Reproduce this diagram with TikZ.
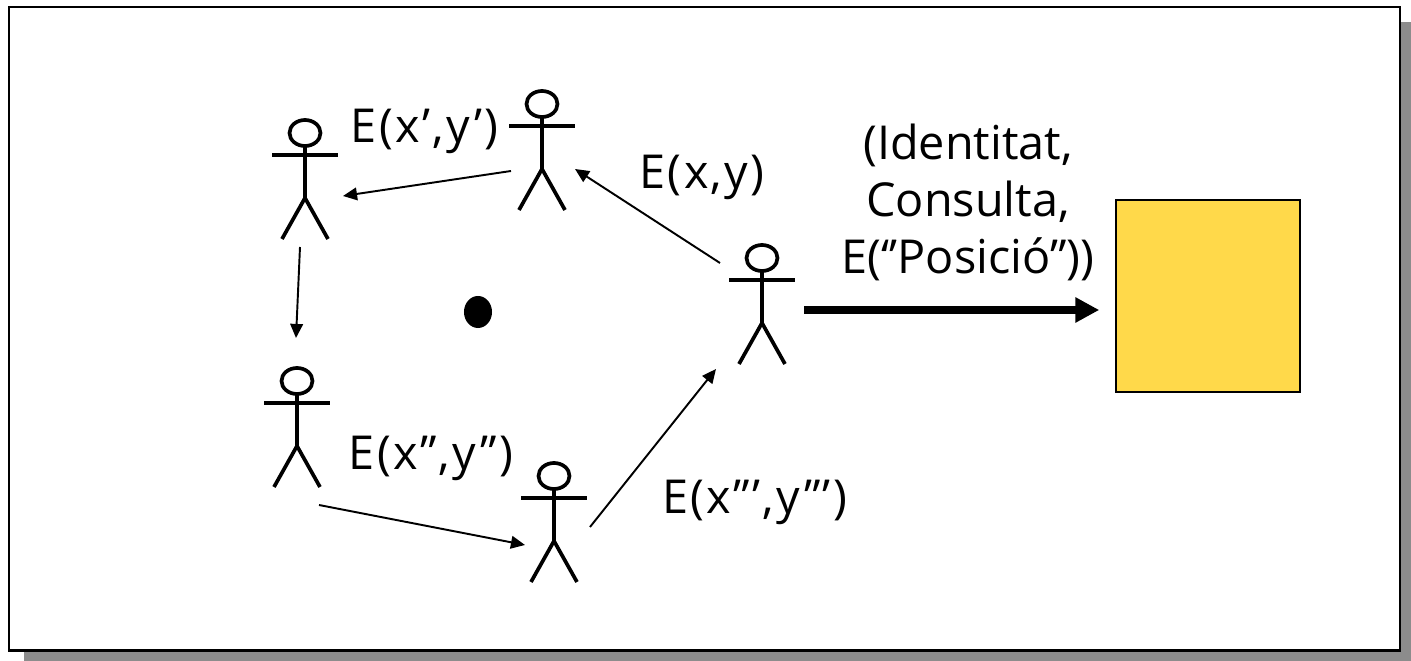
\documentclass[tikz,border=0pt]{standalone}
\usepackage{fontspec}
\usepackage{tikz}
\usetikzlibrary{arrows.meta, shapes.geometric}
\setmainfont{Open Sans}
\definecolor{framegray}{HTML}{8C8C8C}
\definecolor{boxyellow}{HTML}{FFD94A}

\tikzset{
  actor/.style={inner sep=0pt, minimum size=0pt},
  stick/.pic={
    \draw[line width=1.05pt] (0,-22) ellipse (15.5 and 13);
    \draw[line width=1.05pt] (-33,0) -- (33,0);
    \draw[line width=1.05pt] (0,-9) -- (0,43);
    \draw[line width=1.05pt] (-23,84) -- (0,43) -- (23,84);
  },
  msg/.style={-{Triangle[length=4pt,width=3.6pt]}, line width=0.55pt},
  lbl/.style={font=\fontsize{13.3}{16.3}\selectfont\addfontfeature{LetterSpace=5}, anchor=base, inner sep=0pt, align=center},
  reqlbl/.style={lbl, font=\fontsize{13.3}{16.3}\selectfont},
}

\begin{document}
\begin{tikzpicture}[x=0.01cm, y=-0.01cm]
        \useasboundingbox (0,0) rectangle (1411,661);
        \fill[framegray] (24,22) rectangle (1411,661);
        \node[draw, fill=white, line width=0.7pt, anchor=north west, minimum width=13.90cm, minimum height=6.43cm, inner sep=0pt] (frame) at (8,6) {};

        \foreach \name/\x/\y in {a1/542/126, a2/305/155, a3/297/403, a4/554/498, a5/762/280}
        {
                \node[actor] (\name) at (\x,\y) {};
                \pic at (\name) {stick};
        }

        \node[draw, fill=boxyellow, line width=0.4pt, minimum width=1.84cm, minimum height=1.92cm, inner sep=0pt] (server) at (1208,296) {};
        \node[fill=black, ellipse, minimum width=0.28cm, minimum height=0.32cm, inner sep=0pt] (dot) at (478,312) {};

        \path[msg]
        ([shift={(-31,45)}]a1.center) edge ([shift={(38,41)}]a2.center)
        ([shift={(-5,92)}]a2.center) edge ([shift={(-1,-65)}]a3.center)
        ([shift={(22,102)}]a3.center) edge ([shift={(-29,47)}]a4.center)
        ([shift={(36,29)}]a4.center) edge ([shift={(-46,89)}]a5.center)
        ([shift={(-42,-17)}]a5.center) edge ([shift={(33,43)}]a1.center);

        \draw[-{Triangle[length=6.8pt,width=6.8pt]}, line width=2.3pt] ([shift={(42,30)}]a5.center) -- ([shift={(-16,14)}]server.west);

        \node[lbl] (exy) at (702,189) {E(x,y)};
        \node[lbl] (ex1) at (424.5,143) {E(x’,y’)};
        \node[lbl] (ex2) at (431,470) {E(x”,y”)};
        \node[lbl] (ex3) at (754.5,514) {E(x”’,y”’)};
        \node[reqlbl] (req) at (968,274) {(Identitat,\\Consulta,\\E(‘’Posició”))};
\end{tikzpicture}
\end{document}
